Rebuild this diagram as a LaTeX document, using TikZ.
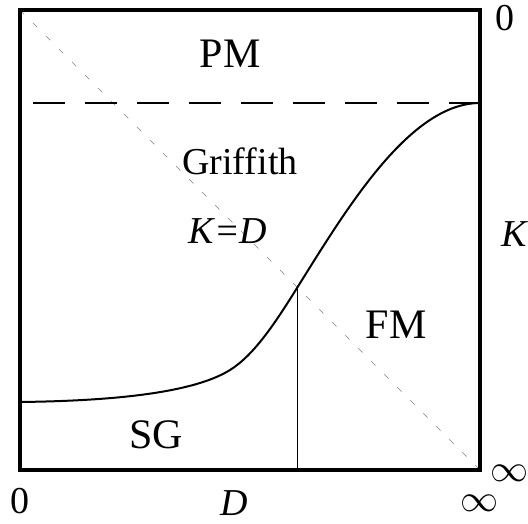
\RequirePackage{fix-cm}
\documentclass[tikz,border=0pt]{standalone}
\usepackage{fontspec}
\setmainfont{Liberation Serif}
\begin{document}
\begin{tikzpicture}[x=1pt,y=-1pt,
  big/.style={anchor=base, inner sep=0pt, font=\fontsize{42}{48}\selectfont},
  mid/.style={anchor=base, inner sep=0pt, font=\fontsize{38}{44}\selectfont},
  infsym/.style={anchor=center, inner sep=0pt, font=\fontsize{38}{44}\selectfont},
  frame/.style={line width=3.4pt},
  diag/.style={gray, line width=0.6pt, dash pattern=on 6pt off 12.4pt},
  hdash/.style={line width=1.2pt, dash pattern=on 32pt off 20pt},
  boundary/.style={line width=2pt, line join=round},
  thinline/.style={line width=1pt}]
\useasboundingbox (0,0) rectangle (528,523);
\coordinate (tl) at (20,10);
\coordinate (br) at (480,470);
\coordinate (dstart) at (33,103);
\coordinate (dend) at (480,103);
\coordinate (cstart) at (20,402);
\coordinate (cmid) at (230,370);
\coordinate (cross) at (297,288);
\coordinate (crossb) at (297,470);
% diagonal K=D
\draw[diag] (tl) -- (br);
% dashed horizontal
\draw[hdash] (dstart) -- (dend);
% phase boundary
\draw[boundary] (cstart) .. controls (100,401) and (190,395) .. (cmid)
  .. controls (255,354.5) and (277,320) .. (cross)
  .. controls (347,208) and (410,103) .. (dend);
% vertical line
\draw[thinline] (cross) -- (crossb);
% frame
\draw[frame] (tl) rectangle (br);
% labels
\node[big] (pm) at (230,67) {PM};
\node[mid] (gr) at (240,174) {Griffith};
\node[mid] (kd) at (228,243) {\itshape K=D};
\node[big] (fm) at (396,338) {FM};
\node[big] (sg) at (156,448) {SG};
\node[mid] (k0) at (505,30) {0};
\node[mid] (kl) at (514,246) {\itshape K};
\node[infsym] (kinf) at (509,473) {$\infty$};
\node[mid] (d0) at (19.5,513) {0};
\node[mid] (dl) at (234,515) {\itshape D};
\node[infsym] (dinf) at (479,503) {$\infty$};
\end{tikzpicture}
\end{document}
